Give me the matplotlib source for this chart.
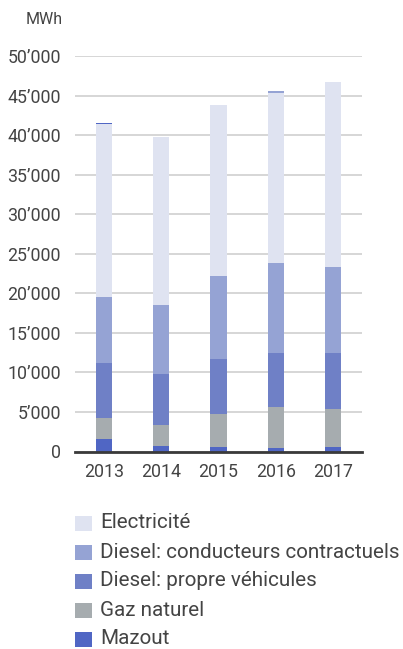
import matplotlib
matplotlib.use("Agg")
import matplotlib.pyplot as plt
from matplotlib.patches import Rectangle
from matplotlib.ticker import FuncFormatter

years = ["2013", "2014", "2015", "2016", "2017"]
mazout = [1600, 700, 570, 440, 570]
gaz_naturel = [2640, 2650, 4180, 5190, 4810]
diesel_propre = [6960, 6450, 6950, 6840, 7090]
diesel_contract = [8360, 8740, 10520, 11390, 10880]
electricite = [21830, 21270, 21640, 21520, 23420]
# tiny segments visible on top of some bars
top_mazout = [150, 0, 0, 0, 0]
top_diesel_contract = [0, 0, 0, 140, 0]

labels = ["Electricité", "Diesel: conducteurs contractuels",
          "Diesel: propre véhicules", "Gaz naturel", "Mazout"]
c_maz = "#5066c4"
c_gaz = "#a6acaf"
c_dp = "#6f80c6"
c_dc = "#95a3d4"
c_el = "#dfe3f1"

plt.rcParams['font.family'] = ['Roboto', 'DejaVu Sans']

W, H = 403, 649
fig = plt.figure(figsize=(W / 100, H / 100), dpi=100)
ax = fig.add_axes([75 / W, (H - 451.5) / H, (362 - 75) / W, 395.5 / H])

x = list(range(len(years)))
bw = 0.28
series = [(mazout, c_maz), (gaz_naturel, c_gaz), (diesel_propre, c_dp),
          (diesel_contract, c_dc), (electricite, c_el),
          (top_mazout, c_maz), (top_diesel_contract, c_dc)]
bottom = [0] * len(years)
for vals, col in series:
    ax.bar(x, vals, bw, bottom=bottom, color=col, linewidth=0, zorder=3)
    bottom = [b + v for b, v in zip(bottom, vals)]

ax.set_xlim(-0.5, 4.5)
ax.set_ylim(0, 50000)
ax.set_yticks(range(0, 50001, 5000))
ax.yaxis.set_major_formatter(FuncFormatter(
    lambda v, p: "0" if v == 0 else f"{int(v/1000)}\u2019000"))
ax.set_xticks(x)
ax.set_xticklabels(years)
ax.grid(axis='y', color="#d0d0d0", linewidth=1.2, zorder=0)
for s in ["top", "right", "left"]:
    ax.spines[s].set_visible(False)
ax.spines["bottom"].set_color("#3a3a3a")
ax.spines["bottom"].set_linewidth(2)
ax.spines["bottom"].set_zorder(4)
ax.tick_params(axis='both', length=0, labelsize=12.8, colors="#444444")
ax.tick_params(axis='y', pad=10)
ax.tick_params(axis='x', pad=8)

fig.text(63 / W, 1 - 20 / H, "MWh", ha="right", va="center",
         fontsize=11.5, color="#444444")

# legend, drawn manually
leg_colors = [c_el, c_dc, c_dp, c_gaz, c_maz]
row_y = [523, 552, 581, 610, 639]
for lab, col, yy in zip(labels, leg_colors, row_y):
    fig.add_artist(Rectangle((75 / W, 1 - (yy + 7.5) / H), 17 / W, 15 / H,
                             transform=fig.transFigure, facecolor=col,
                             edgecolor='none'))
    fig.text(100 / W, 1 - yy / H, lab, ha="left", va="center",
             fontsize=14.9, color="#444444")

fig.savefig("out.png", dpi=100)
